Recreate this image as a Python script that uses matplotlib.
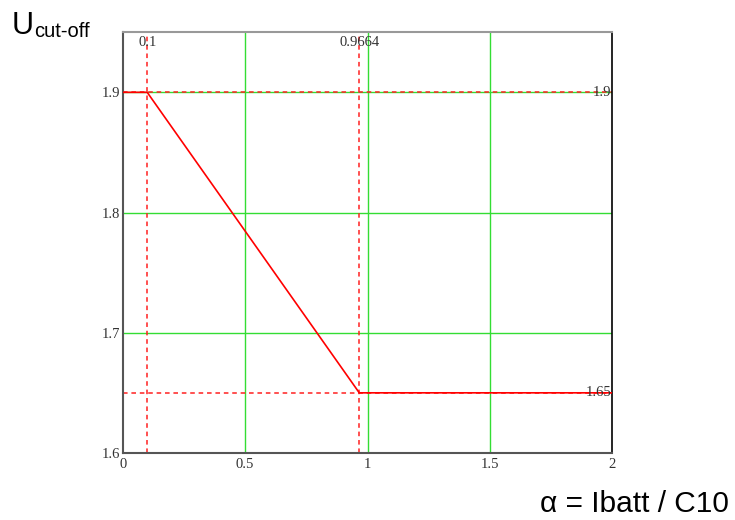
import matplotlib.pyplot as plt

# Cut-off voltage vs discharge rate
alpha = [0, 0.1, 0.9664, 2]
u_cut = [1.9, 1.9, 1.65, 1.65]

marker_x = [0.1, 0.9664]
marker_x_labels = ["0.1", "0.9664"]
marker_y = [1.9, 1.65]
marker_y_labels = ["1.9", "1.65"]

xticks = [0, 0.5, 1, 1.5, 2]
xtick_labels = ["0", "0.5", "1", "1.5", "2"]
yticks = [1.6, 1.7, 1.8, 1.9]
ytick_labels = ["1.6", "1.7", "1.8", "1.9"]

fig = plt.figure(figsize=(7.35, 5.2), dpi=100)
ax = fig.add_axes([0.167, 0.129, 0.666, 0.809])

serif = "Liberation Serif"
txtcol = "#333333"

# grid (green)
for gx in xticks[1:-1]:
    ax.axvline(gx, color="#33dd33", lw=1, zorder=1)
for gy in yticks[1:]:
    ax.axhline(gy, color="#33dd33", lw=1, zorder=1)

# marker lines
for mx in marker_x:
    ax.axvline(mx, color="#ff2020", lw=1.1, ls=(0, (3, 2.5)), zorder=2)
for my in marker_y:
    ax.axhline(my, color="#ff2020", lw=1.1, ls=(0, (3, 2.5)), zorder=2)

ax.plot(alpha, u_cut, color="red", lw=1.2, zorder=3)

ax.set_xlim(0, 2)
ax.set_ylim(1.6, 1.95)
ax.set_xticks(xticks)
ax.set_xticklabels(xtick_labels, family=serif, fontsize=10.5, color=txtcol)
ax.set_yticks(yticks)
ax.set_yticklabels(ytick_labels, family=serif, fontsize=10.5, color=txtcol)
ax.tick_params(axis="x", length=0, pad=4)
ax.tick_params(axis="y", length=0, pad=2)

for mx, lab in zip(marker_x, marker_x_labels):
    ax.text(mx, 1.947, lab, family=serif, fontsize=10.5, color=txtcol,
            ha="center", va="top")
for my, lab in zip(marker_y, marker_y_labels):
    ax.text(1.995, my, lab, family=serif, fontsize=10.5, color=txtcol,
            ha="right", va="center")

for side in ["left", "bottom"]:
    ax.spines[side].set_color("#555555")
    ax.spines[side].set_linewidth(1.5)
ax.spines["top"].set_color("#999999")
ax.spines["top"].set_linewidth(1.5)
ax.spines["right"].set_color("black")
ax.spines["right"].set_linewidth(1.2)

fig.text(0.016, 0.935, "U", family="Liberation Sans", fontsize=22, va="baseline")
fig.text(0.046, 0.929, "cut-off", family="Liberation Sans", fontsize=14.5, va="baseline")
fig.text(0.735, 0.016, "\u03b1 = Ibatt / C10", family="Liberation Sans",
         fontsize=21.5, va="baseline")

fig.savefig("out.png", dpi=100)
